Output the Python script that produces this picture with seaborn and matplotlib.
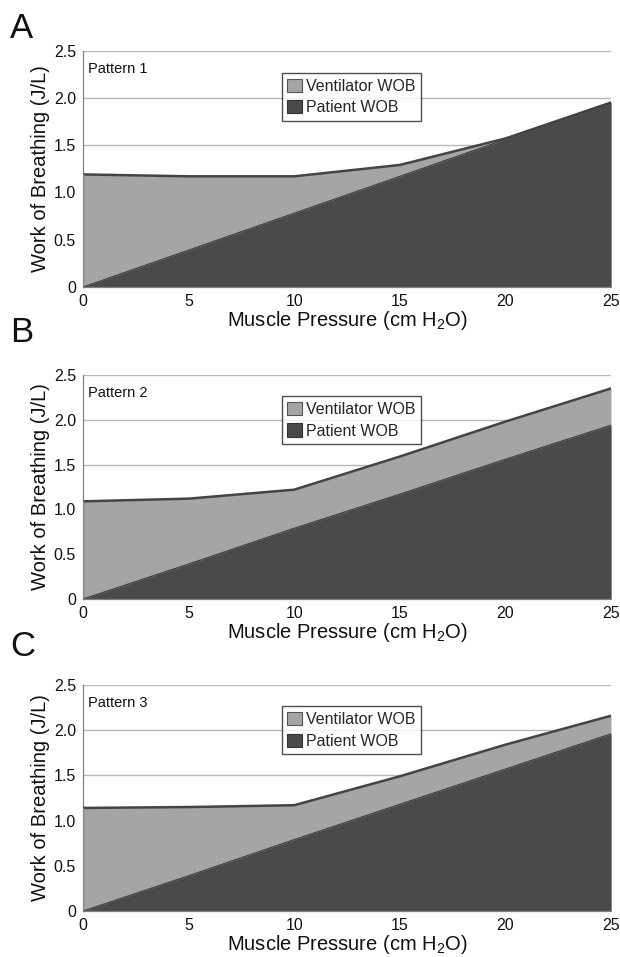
import matplotlib
matplotlib.use("Agg")
import matplotlib.pyplot as plt
import seaborn as sns
import pandas as pd
from matplotlib.patches import Patch

pressure = [0, 5, 10, 15, 20, 25]
patient_1 = [0.0, 0.39, 0.78, 1.17, 1.56, 1.95]
total_1 = [1.19, 1.17, 1.17, 1.29, 1.57, 1.95]
patient_2 = [0.0, 0.39, 0.79, 1.17, 1.56, 1.94]
total_2 = [1.09, 1.12, 1.22, 1.59, 1.98, 2.35]
patient_3 = [0.0, 0.39, 0.79, 1.18, 1.57, 1.96]
total_3 = [1.14, 1.15, 1.17, 1.49, 1.84, 2.16]
panel_letters = ["A", "B", "C"]
pattern_names = ["Pattern 1", "Pattern 2", "Pattern 3"]
y_ticks = [0, 0.5, 1.0, 1.5, 2.0, 2.5]
y_tick_labels = ["0", "0.5", "1.0", "1.5", "2.0", "2.5"]
x_ticks = [0, 5, 10, 15, 20, 25]
legend_labels = ["Ventilator WOB", "Patient WOB"]

sns.set_style("white")
plt.rcParams["font.family"] = ["Liberation Sans", "DejaVu Sans"]
plt.rcParams["mathtext.fontset"] = "custom"
plt.rcParams["mathtext.rm"] = "Liberation Sans"

LIGHT = "#a5a5a5"
DARK = "#4a4a4a"
LINE = "#444444"
GRID = "#b8b8b8"

fig = plt.figure(figsize=(6.2, 9.57), dpi=100)
W, H = 620, 957
# axes pixel boxes: left, top, right, bottom
boxes = [(83, 50.5, 611, 287), (83, 375, 611, 599), (83, 685, 611, 911)]
letter_y = [28, 333, 646]

patients = [patient_1, patient_2, patient_3]
totals = [total_1, total_2, total_3]

for i in range(3):
    l, t, r, b = boxes[i]
    ax = fig.add_axes([l / W, 1 - b / H, (r - l) / W, (b - t) / H])
    df = pd.DataFrame({"p": pressure, "patient": patients[i], "total": totals[i]})
    for yv in [1.0, 1.5, 2.0, 2.5]:
        ax.axhline(yv, color=GRID, lw=1.0, zorder=0)
    ax.fill_between(df["p"], 0, df["total"], color=LIGHT, lw=0, zorder=1)
    ax.fill_between(df["p"], 0, df["patient"], color=DARK, lw=0, zorder=2)
    sns.lineplot(data=df, x="p", y="total", color=LINE, lw=1.8, ax=ax, zorder=3)
    sns.lineplot(data=df, x="p", y="patient", color="#3e3e3e", lw=0.8, ax=ax, zorder=3)
    ax.plot([0, 0], [0, df["total"].iloc[0]], color="#8a8a8a", lw=1.0, zorder=3)
    ax.set_xlim(0, 25)
    ax.set_ylim(0, 2.5)
    ax.set_yticks(y_ticks)
    ax.set_yticklabels(y_tick_labels)
    ax.set_xticks(x_ticks)
    ax.tick_params(axis="both", direction="out", length=4, width=0.8,
                   color="#808080", labelsize=11.5, pad=1, labelcolor="#111111")
    for s in ["top", "right"]:
        ax.spines[s].set_visible(False)
    for s in ["left", "bottom"]:
        ax.spines[s].set_color("#808080")
        ax.spines[s].set_linewidth(0.9)
    ax.set_ylabel("Work of Breathing (J/L)", fontsize=14.5, labelpad=3, color="#111111")
    ax.set_xlabel(r"Muscle Pressure (cm H$_\mathregular{2}$O)", fontsize=14.5,
                  labelpad=0, color="#111111")
    ax.text(0.01, 0.95, pattern_names[i], transform=ax.transAxes, fontsize=10.5,
            va="top", ha="left", color="#111111")
    handles = [Patch(facecolor=LIGHT, edgecolor="#555555", lw=0.8),
               Patch(facecolor=DARK, edgecolor="#333333", lw=0.8)]
    leg = ax.legend(handles, legend_labels, loc="upper center",
                    bbox_to_anchor=(0.508, 0.905), fontsize=11.5, frameon=True,
                    fancybox=False, handlelength=0.9, handleheight=0.9,
                    handletextpad=0.25, borderpad=0.35, labelspacing=0.4,
                    borderaxespad=0)
    leg.get_frame().set_edgecolor("#222222")
    leg.get_frame().set_linewidth(1.0)
    fig.text(10 / W, 1 - letter_y[i] / H, panel_letters[i], fontsize=25,
             ha="left", va="center", color="#111111")

fig.savefig("out.png", dpi=100)
